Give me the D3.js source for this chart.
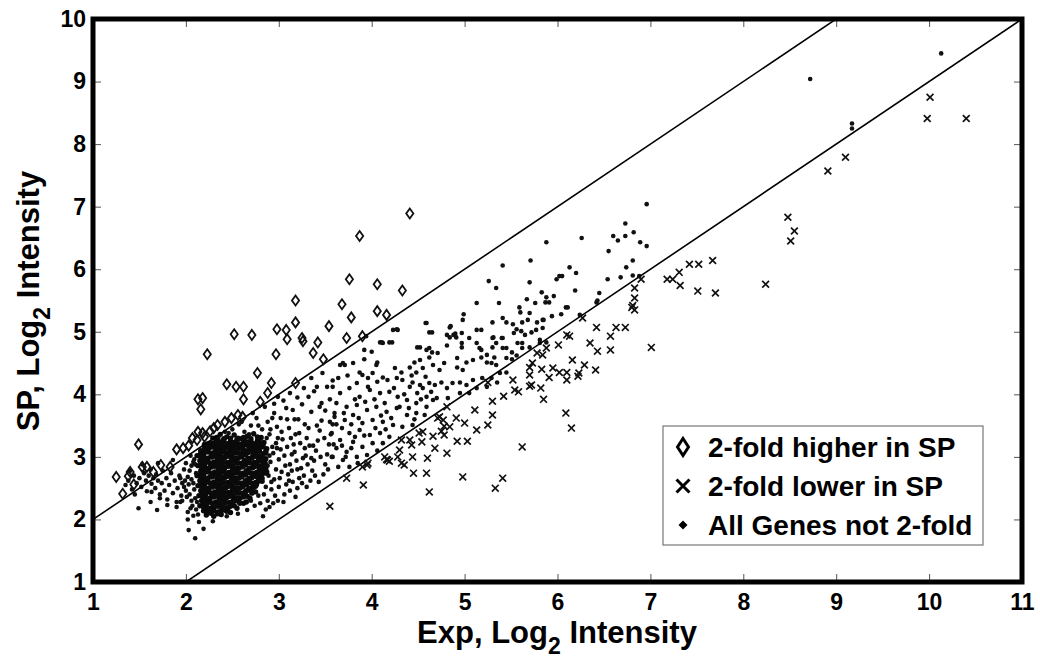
<!DOCTYPE html>
<meta charset="utf-8">
<title>SP vs Exp, Log2 Intensity</title>
<style>
  body { margin: 0; background: #fff; }
  svg text { font-family: "Liberation Sans", Arial, sans-serif; font-weight: bold; fill: #000; }
</style>
<body>
<div id="chart"></div>
<script src="https://d3js.org/d3.v7.min.js"></script>
<script>
// tick values and labels
var xTicks = [1, 2, 3, 4, 5, 6, 7, 8, 9, 10, 11];
var yTicks = [1, 2, 3, 4, 5, 6, 7, 8, 9, 10];
var xTitle = ["Exp, Log", "2", " Intensity"];
var yTitle = ["SP, Log", "2", " Intensity"];
var legendLabels = ["2-fold higher in SP", "2-fold lower in SP", "All Genes not 2-fold"];
// 2-fold lines: SP = Exp + offset (log2)
var foldOffsets = [1, -1];

// diamonds: 2-fold higher in SP  [Exp, SP]
var higherInSP = [
  [4.41,6.89],[3.87,6.53],[3.76,5.84],[4.06,5.76],[4.33,5.66],[3.18,5.50],[3.68,5.44],[4.06,5.33],
  [4.16,5.27],[3.78,5.23],[3.18,5.15],[3.54,5.09],[2.52,4.96],[2.71,4.95],[2.98,5.04],[3.08,5.03],
  [3.09,4.88],[3.25,4.90],[3.26,4.85],[3.42,4.83],[3.73,4.90],[3.90,4.93],[2.23,4.64],[2.97,4.64],
  [3.37,4.66],[3.48,4.56],[2.77,4.34],[2.44,4.16],[2.54,4.12],[2.62,4.12],[2.92,4.18],[3.18,4.18],
  [2.62,3.92],[2.88,4.02],[2.80,3.88],[2.13,3.92],[2.18,3.94],[2.16,3.76],[1.49,3.20],[1.90,3.12],
  [1.97,3.14],[1.25,2.68],[1.32,2.41],[1.40,2.76],[1.38,2.69],[1.53,2.84],[1.58,2.84],[1.73,2.87],
  [1.83,2.84],[2.13,3.40],[2.18,3.38],[2.26,3.41],[2.34,3.51],[2.42,3.56],[2.49,3.62],[2.56,3.67],
  [2.61,3.64],[2.12,3.27],[2.20,3.32],[2.07,3.30],[2.03,3.18],[1.65,2.76],[1.44,2.56],[2.30,3.46]
];

// crosses: 2-fold lower in SP
var lowerInSP = [
  [3.55,2.21],[3.91,2.55],[3.73,2.66],[3.90,2.84],[3.95,2.87],[3.96,2.90],[4.14,3.00],[4.17,2.95],
  [4.16,2.96],[4.19,2.93],[4.28,3.00],[4.30,3.11],[4.32,2.90],[4.35,2.87],[4.32,3.27],[4.41,3.27],
  [4.43,3.19],[4.44,3.00],[4.45,2.74],[4.51,3.38],[4.54,3.24],[4.55,3.40],[4.59,2.74],[4.60,2.98],
  [4.62,2.44],[4.66,3.33],[4.68,3.14],[4.71,3.62],[4.73,3.64],[4.75,3.41],[4.77,3.59],[4.78,3.35],
  [4.78,3.49],[4.81,3.80],[4.81,3.06],[4.84,3.48],[4.91,3.62],[4.92,3.25],[4.98,2.68],[5.00,3.54],
  [5.03,3.25],[5.11,3.75],[5.13,3.43],[5.25,3.51],[5.25,4.19],[5.30,3.67],[5.30,3.89],[5.33,2.50],
  [5.41,2.66],[5.42,3.97],[5.52,4.23],[5.54,4.07],[5.58,4.04],[5.62,3.16],[5.70,4.13],[5.70,4.31],
  [5.70,4.43],[5.73,4.50],[5.72,4.15],[5.78,4.66],[5.82,4.10],[5.83,4.40],[5.84,4.63],[5.85,3.92],
  [5.88,4.74],[5.91,4.27],[5.95,4.42],[6.01,4.79],[6.02,4.35],[6.09,3.70],[6.10,4.23],[6.10,4.35],
  [6.10,4.95],[6.13,4.93],[6.15,3.46],[6.16,4.55],[6.22,4.29],[6.23,4.34],[6.29,4.47],[6.35,4.82],
  [6.41,4.39],[6.43,4.69],[6.57,4.93],[6.57,4.71],[6.27,5.22],[6.42,5.07],[6.63,5.07],[6.73,5.07],
  [6.90,5.84],[6.83,5.70],[6.83,5.54],[6.81,5.42],[6.83,5.35],[6.80,5.39],[7.01,4.75],[7.18,5.84],
  [7.24,5.84],[7.31,5.95],[7.32,5.74],[7.42,6.08],[7.52,6.08],[7.67,6.14],[7.51,5.65],[7.70,5.62],
  [8.24,5.76],[8.48,6.83],[8.55,6.61],[8.51,6.45],[8.91,7.57],[9.10,7.79],[10.01,8.75],[9.98,8.41],
  [10.40,8.41]
];

// dots: not 2-fold, spread part of the cloud
var notFoldSpread = [
  [1.35,2.55],[1.38,2.62],[1.42,2.48],[1.44,2.70],[1.47,2.58],[1.50,2.66],[1.52,2.52],[1.55,2.74],
  [1.57,2.62],[1.58,2.45],[1.60,2.70],[1.62,2.80],[1.63,2.57],[1.65,2.66],[1.67,2.50],[1.68,2.72],
  [1.70,2.62],[1.72,2.40],[1.74,2.58],[1.75,2.78],[1.77,2.46],[1.79,2.66],[1.80,2.32],[1.82,2.55],
  [1.84,2.74],[1.86,2.42],[1.88,2.62],[1.90,2.28],[1.91,2.50],[1.93,2.70],[1.95,2.38],[1.96,2.58],
  [1.98,2.80],[1.45,2.40],[1.49,2.18],[1.69,2.15],[1.62,2.28],[1.72,2.34],[1.80,2.23],[1.90,2.20],
  [1.94,2.28],[1.63,2.44],[1.40,2.78],[1.53,2.88],[1.70,2.90],[1.86,2.95],
  [2.02,2.00],[2.10,1.70],[2.03,1.83],[2.14,1.96],[2.19,1.85],[2.29,1.97],[2.83,2.05],[2.56,2.09],
  [2.44,2.05],[2.66,2.15],
  [1.98,2.52],[2.02,2.68],[2.04,2.40],[2.06,2.86],[2.07,2.22],[2.08,2.58],[2.09,2.96],[2.10,2.34],
  [2.11,2.74],[2.02,2.12],[2.05,3.02],[2.00,2.90],[1.96,2.30],[1.94,2.66],
  [2.00,2.46],[2.03,2.56],[2.06,2.64],[2.04,2.78],[2.08,2.92],[2.01,2.36],[2.06,2.30],[2.09,2.48],
  [2.11,2.16],[2.08,2.06],[1.99,2.62],[2.05,2.18],[2.10,2.88],[2.12,2.28],[2.13,2.08],
  [2.35,3.30],[2.42,3.40],[2.50,3.44],[2.57,3.52],[2.63,3.40],[2.70,3.50],[2.76,3.62],[2.82,3.44],
  [2.88,3.56],[2.95,3.70],[2.68,3.36],[2.90,3.36],[2.98,3.48],[3.02,3.62],[3.08,3.78],[2.85,3.80],
  [2.72,3.70],[2.60,3.56],[2.46,3.38],[2.93,3.62],[2.78,3.50],
  [2.88,2.30],[2.92,2.48],[2.95,2.64],[2.97,2.80],[3.00,2.96],[3.02,3.12],[3.04,3.28],[3.06,2.40],
  [3.08,2.56],[3.10,2.72],[3.12,2.88],[3.14,3.04],[3.16,3.20],[3.18,3.36],[3.20,2.50],[3.22,2.66],
  [3.24,2.82],[3.26,2.98],[3.28,3.14],[3.30,3.30],[3.32,3.46],[3.34,2.62],[3.36,2.78],[3.38,2.94],
  [3.40,3.10],[3.42,3.26],[3.44,3.42],[3.46,3.58],[3.48,2.72],[3.50,2.88],[3.52,3.04],[3.54,3.20],
  [3.56,3.36],[3.58,3.52],[3.60,3.70],[2.90,2.20],[3.05,2.28],[3.18,2.36],[3.30,2.52],[3.43,2.60],
  [2.93,3.16],[2.99,3.30],[3.11,3.46],[3.21,3.60],[3.35,3.72],[3.25,3.84],[3.46,3.86],[3.12,2.46],
  [2.86,2.52],[2.89,2.70],[2.91,2.92],[2.94,3.06],[3.01,2.66],[3.07,2.86],[3.15,2.60],[3.19,2.94],
  [3.27,2.70],[3.31,2.88],[3.39,2.70],[3.45,3.00],[3.53,2.80],[3.57,3.00],[3.49,3.30],[3.37,3.18],
  [3.23,3.22],[3.13,3.30],[3.03,3.40],[3.59,3.20],[3.41,3.50],[3.28,3.52],[3.17,3.60],
  [2.88,2.86],[2.90,3.02],[2.92,2.60],[2.96,2.38],[2.98,3.14],[3.00,2.52],[3.03,2.76],[3.06,3.02],
  [3.09,3.16],[3.11,2.62],[3.14,2.78],[3.17,3.08],[3.20,2.80],[3.22,3.38],[3.25,2.58],[3.29,3.02],
  [3.33,3.18],[3.35,2.98],[2.87,3.30],[2.91,3.44],[2.97,3.22],[3.09,3.60],[2.84,2.40],[2.86,2.16],
  [2.94,2.26],[2.99,2.30],[2.80,2.26],[2.74,2.22],[2.70,2.30],[2.78,2.38],
  [3.05,3.90],[3.12,4.02],[3.20,3.95],[3.27,4.10],[3.15,3.75],[3.32,3.96],[3.38,4.05],[3.44,3.80],
  [3.55,3.92],[3.58,4.22],[2.95,3.85],[2.99,3.96],[3.47,4.34],[3.35,4.26],[3.41,4.12],[3.52,4.12],
  [3.69,4.50],[3.66,4.47],[3.58,4.12],[3.62,3.86],[3.73,3.80],[3.84,3.83],[3.95,3.75],[4.05,3.80],
  [4.16,3.72],[4.27,3.78],[4.38,3.67],[4.48,3.70],[4.57,3.67],[3.60,3.64],[3.71,3.59],[3.80,3.67],
  [3.90,3.54],[4.01,3.59],[4.12,3.56],[4.23,3.51],[4.33,3.48],[4.44,3.51],[3.68,3.46],[3.76,3.38],
  [3.87,3.43],[3.98,3.35],[4.09,3.38],[4.19,3.32],[3.57,3.38],[3.66,3.27],[3.80,3.24],[3.90,3.16],
  [4.01,3.22],[4.12,3.22],[3.62,3.14],[3.73,3.08],[3.84,3.00],[3.95,3.03],[3.69,2.95],[3.58,3.00],
  [3.76,2.84],[3.85,2.90],
  [3.62,3.52],[3.70,3.70],[3.78,3.52],[3.82,3.92],[3.86,3.62],[3.93,3.88],[3.96,4.12],[4.03,3.92],
  [4.06,4.20],[4.10,3.66],[4.14,3.86],[4.21,3.62],[4.24,4.10],[4.30,3.80],[4.35,4.00],[4.40,3.78],
  [4.43,4.30],[4.46,3.60],[4.53,3.92],[4.58,4.28],[4.64,4.04],[3.64,4.26],[3.74,4.30],[3.80,4.50],
  [3.84,4.18],[3.92,4.56],[4.00,4.68],[3.55,3.56],[3.50,3.74],[3.68,3.18],[3.78,3.14],[3.92,3.34],
  [4.04,3.46],[4.15,3.44],[4.06,3.10],[3.82,3.32],[3.64,2.84],[3.72,3.00],
  [3.66,4.02],[3.76,4.10],[3.87,3.96],[3.98,4.07],[4.09,4.02],[4.19,4.04],[4.28,3.96],
  [4.38,3.91],[4.48,3.86],[4.59,3.80],[4.66,3.91],[3.71,4.47],[3.87,4.35],[3.90,4.31],
  [3.96,4.26],[4.01,4.34],[4.12,4.27],[4.17,4.23],[4.27,4.26],[4.33,4.23],[4.44,4.19],[4.41,4.12],
  [4.52,4.15],[4.55,4.10],[4.62,4.18],[4.68,4.15],[4.75,4.19],[4.81,4.10],[4.87,4.18],[4.95,4.19],
  [5.02,4.15],[5.09,4.23],[5.19,4.26],[5.29,4.26],[5.38,4.34],[5.45,4.35],[5.35,4.19],[5.24,4.12],
  [5.13,4.10],[5.05,4.02],[4.95,4.02],[4.82,3.94],[4.70,3.94],[4.59,3.96],[4.49,4.02],
  [4.06,4.51],[4.05,4.47],[4.25,4.42],[4.32,4.35],[4.41,4.43],[4.46,4.51],[4.52,4.55],[4.55,4.42],
  [4.48,4.35],[4.62,4.59],[4.66,4.47],[4.73,4.39],[4.78,4.50],[4.92,4.58],[4.92,4.43],[4.98,4.39],
  [5.02,4.51],[5.09,4.55],[5.18,4.59],[5.24,4.51],[5.29,4.50],[5.34,4.47],[5.32,4.59],[5.45,4.58],
  [5.51,4.56],[5.56,4.62],
  [3.92,4.71],[3.94,4.93],[4.09,4.83],[4.12,4.82],[4.22,4.83],[4.23,5.03],[4.28,5.03],[4.58,5.14],
  [4.65,4.99],[4.11,4.83],[4.19,4.83],[4.52,4.75],[4.62,4.74],[4.49,4.75],[4.59,4.71],[4.65,4.67],
  [4.71,4.66],[4.81,4.78],[4.84,4.91],[4.90,4.97],[4.97,4.82],[5.05,4.90],[5.13,4.82],[5.18,4.71],
  [5.24,4.63],[5.30,4.90],[5.34,4.82],[5.40,4.90],[5.45,4.74],[5.51,4.67],[5.57,4.82],[5.62,4.82],
  [5.81,4.87],[5.88,4.83],[4.97,4.75],[5.16,4.74],[5.30,4.75],[5.41,4.74],[5.62,4.74],[5.70,4.75],
  [5.81,4.82],[4.84,5.07],[4.81,4.95],[4.88,4.95],[4.91,4.91],[4.97,4.98],[4.27,5.04],[4.62,4.99],
  [5.13,5.03],[5.18,5.03],[5.31,4.91],[5.41,4.90],[5.53,4.98],[5.56,5.04],[5.61,5.01],[5.65,4.95],
  [5.72,4.99],[5.77,5.03],
  [4.59,5.14],[4.85,5.09],[4.99,5.28],[4.98,5.19],[5.30,5.15],[5.41,5.22],[5.45,5.15],[5.52,5.12],
  [5.62,5.15],[5.68,5.19],[5.78,5.15],[5.85,5.19],[5.13,5.46],[5.37,5.46],[5.67,5.52],[5.76,5.46],
  [5.59,5.39],[5.60,5.31],[5.70,5.30],[5.26,5.81],[5.34,5.70],[5.70,5.79],[5.71,6.14],[5.41,6.06],
  [5.83,5.63],[5.88,5.55],[5.96,5.57],[5.87,5.47],[5.91,5.47],[6.09,5.39],[6.11,5.39],[6.04,5.28],
  [5.94,5.25],[5.84,5.19],[5.84,5.06],[6.24,5.27],[6.19,5.66],[6.45,5.62],[6.43,5.50],[6.42,5.47],
  [6.54,5.84],[6.68,5.87],[6.81,5.90],[6.88,5.89],[6.74,6.03],[6.81,6.14],[6.55,6.29],[6.13,6.03],
  [6.20,5.94],[5.99,5.84],[6.02,5.89],[6.05,5.89],[5.88,6.43],[6.26,6.50],[6.60,6.53],[6.65,6.46],
  [6.73,6.53],[6.82,6.59],[6.89,6.43],[6.96,6.37],[6.73,6.73],[6.96,7.04],
  [8.72,9.04],[10.13,9.45],[9.17,8.33],[9.17,8.25]
];

// dots: not 2-fold, dense core of the cloud
var notFoldCore = [
  [2.29,3.30],[2.37,3.36],[2.44,3.32],[2.52,3.35],[2.58,3.29],[2.66,3.33],[2.73,3.37],[2.81,3.31],
  [2.32,3.23],[2.40,3.26],[2.47,3.22],[2.55,3.27],[2.62,3.24],[2.69,3.21],[2.77,3.26],[2.84,3.23],
  [2.20,3.20],[2.28,3.16],[2.35,3.19],[2.43,3.15],[2.50,3.18],[2.57,3.14],[2.65,3.19],[2.72,3.15],
  [2.80,3.17],[2.87,3.13],[2.16,3.10],[2.24,3.12],[2.31,3.08],[2.38,3.11],[2.46,3.07],[2.53,3.10],
  [2.61,3.06],[2.68,3.11],[2.75,3.08],[2.83,3.05],[2.12,3.02],[2.19,3.04],[2.27,3.00],[2.34,3.03],
  [2.42,2.99],[2.49,3.02],[2.56,2.98],[2.64,3.03],[2.71,2.99],[2.78,3.01],[2.86,2.97],[2.15,2.94],
  [2.23,2.96],[2.30,2.92],[2.37,2.95],[2.45,2.91],[2.52,2.94],[2.60,2.90],[2.67,2.95],[2.74,2.91],
  [2.82,2.93],[2.13,2.86],[2.20,2.88],[2.27,2.84],[2.35,2.87],[2.42,2.83],[2.50,2.86],[2.57,2.82],
  [2.64,2.87],[2.72,2.83],[2.79,2.85],[2.86,2.81],[2.16,2.78],[2.24,2.80],[2.31,2.76],[2.39,2.79],
  [2.46,2.75],[2.54,2.78],[2.61,2.74],[2.68,2.79],[2.76,2.75],[2.83,2.77],[2.12,2.70],[2.19,2.72],
  [2.27,2.68],[2.34,2.71],[2.42,2.67],[2.49,2.70],[2.57,2.66],[2.64,2.71],[2.71,2.67],[2.79,2.69],
  [2.15,2.62],[2.23,2.64],[2.30,2.60],[2.38,2.63],[2.45,2.59],[2.53,2.62],[2.60,2.58],[2.67,2.63],
  [2.75,2.59],[2.82,2.61],[2.13,2.54],[2.20,2.56],[2.28,2.52],[2.35,2.55],[2.43,2.51],[2.50,2.54],
  [2.57,2.50],[2.65,2.55],[2.72,2.51],[2.16,2.46],[2.24,2.48],[2.31,2.44],[2.39,2.47],[2.46,2.43],
  [2.54,2.46],[2.61,2.42],[2.68,2.47],[2.75,2.44],[2.14,2.38],[2.21,2.40],[2.29,2.36],[2.36,2.39],
  [2.44,2.35],[2.51,2.38],[2.58,2.34],[2.66,2.37],[2.17,2.30],[2.25,2.32],[2.32,2.28],[2.40,2.31],
  [2.47,2.27],[2.55,2.30],[2.62,2.26],[2.15,2.22],[2.22,2.24],[2.30,2.20],[2.37,2.23],[2.45,2.19],
  [2.52,2.22],[2.19,2.14],[2.26,2.16],[2.34,2.12],[2.41,2.15],[2.48,2.11],[2.22,2.07],[2.30,2.05],
  [2.38,2.08],
  [2.33,3.26],[2.41,3.29],[2.48,3.25],[2.56,3.30],[2.63,3.27],[2.70,3.25],[2.78,3.29],[2.24,3.21],
  [2.31,3.19],[2.39,3.22],[2.46,3.18],[2.54,3.21],[2.61,3.17],[2.68,3.22],[2.76,3.19],[2.83,3.20],
  [2.20,3.14],[2.27,3.16],[2.35,3.12],[2.42,3.15],[2.50,3.11],[2.57,3.14],[2.64,3.10],[2.72,3.13],
  [2.79,3.11],[2.86,3.09],[2.16,3.06],[2.23,3.08],[2.31,3.04],[2.38,3.07],[2.45,3.03],[2.53,3.06],
  [2.60,3.02],[2.67,3.07],[2.75,3.04],[2.82,3.01],[2.19,2.98],[2.27,3.00],[2.34,2.96],[2.41,2.99],
  [2.49,2.95],[2.56,2.98],[2.63,2.94],[2.71,2.98],[2.78,2.95],[2.85,2.91],[2.17,2.90],[2.24,2.92],
  [2.31,2.88],[2.38,2.91],[2.46,2.87],[2.54,2.90],[2.61,2.86],[2.68,2.91],[2.76,2.87],[2.83,2.89],
  [2.20,2.82],[2.27,2.84],[2.35,2.80],[2.42,2.83],[2.50,2.79],[2.57,2.82],[2.65,2.78],[2.72,2.83],
  [2.79,2.79],[2.87,2.76],[2.16,2.74],[2.23,2.76],[2.31,2.72],[2.38,2.75],[2.46,2.71],[2.53,2.74],
  [2.60,2.70],[2.68,2.75],[2.75,2.71],[2.82,2.73],[2.19,2.66],[2.26,2.68],[2.34,2.64],[2.41,2.67],
  [2.49,2.63],[2.56,2.66],[2.64,2.62],[2.71,2.67],[2.78,2.63],[2.17,2.58],[2.24,2.60],[2.32,2.56],
  [2.39,2.59],[2.47,2.55],[2.54,2.58],[2.61,2.54],[2.69,2.59],[2.76,2.56],[2.20,2.50],[2.28,2.52],
  [2.35,2.48],[2.43,2.51],[2.50,2.47],[2.58,2.50],[2.65,2.46],[2.72,2.49],[2.18,2.42],[2.25,2.44],
  [2.33,2.40],[2.40,2.43],[2.48,2.39],[2.55,2.42],[2.62,2.39],[2.21,2.34],[2.28,2.36],[2.36,2.32],
  [2.43,2.35],[2.51,2.31],[2.58,2.34],[2.19,2.26],[2.26,2.28],[2.34,2.24],[2.41,2.27],[2.49,2.23],
  [2.23,2.18],[2.30,2.20],[2.38,2.16],[2.45,2.17],[2.27,2.10],[2.34,2.09],
  [2.33,3.31],[2.41,3.28],[2.48,3.30],[2.55,3.27],[2.62,3.31],[2.70,3.29],[2.77,3.32],
  [2.28,3.22],[2.36,3.24],[2.44,3.21],[2.51,3.23],[2.58,3.20],[2.66,3.24],[2.73,3.21],[2.80,3.23],
  [2.24,3.16],[2.32,3.14],[2.39,3.17],[2.46,3.15],[2.54,3.17],[2.61,3.13],[2.68,3.16],[2.76,3.14],[2.83,3.16],
  [2.20,3.08],[2.27,3.06],[2.35,3.09],[2.42,3.07],[2.50,3.09],[2.57,3.06],[2.64,3.08],[2.72,3.06],[2.79,3.09],[2.86,3.06],
  [2.16,3.00],[2.23,2.98],[2.30,3.01],[2.38,2.99],[2.45,3.01],[2.53,2.98],[2.60,3.00],[2.67,2.98],[2.75,3.01],[2.82,2.98],
  [2.19,2.92],[2.26,2.90],[2.34,2.93],[2.41,2.91],[2.49,2.93],[2.56,2.90],[2.63,2.92],[2.71,2.90],[2.78,2.93],[2.85,2.90],
  [2.17,2.84],[2.24,2.82],[2.31,2.85],[2.39,2.83],[2.46,2.85],[2.53,2.82],[2.61,2.84],[2.68,2.82],[2.75,2.85],[2.83,2.82],
  [2.20,2.76],[2.27,2.74],[2.35,2.77],[2.42,2.75],[2.50,2.77],[2.57,2.74],[2.65,2.76],[2.72,2.74],[2.80,2.77],[2.86,2.74],
  [2.16,2.68],[2.23,2.66],[2.30,2.69],[2.38,2.67],[2.45,2.69],[2.53,2.66],[2.60,2.68],[2.68,2.66],[2.75,2.69],[2.82,2.66],
  [2.19,2.60],[2.26,2.58],[2.34,2.61],[2.41,2.59],[2.49,2.61],[2.56,2.58],[2.64,2.60],[2.71,2.58],[2.78,2.61],
  [2.17,2.52],[2.24,2.50],[2.32,2.53],[2.39,2.51],[2.46,2.53],[2.54,2.50],[2.61,2.52],[2.68,2.50],[2.75,2.53],
  [2.20,2.44],[2.27,2.42],[2.35,2.45],[2.42,2.43],[2.50,2.45],[2.57,2.42],[2.64,2.44],[2.71,2.42],
  [2.18,2.36],[2.25,2.34],[2.32,2.37],[2.40,2.35],[2.47,2.37],[2.55,2.34],[2.62,2.36],[2.69,2.34],
  [2.21,2.28],[2.28,2.26],[2.36,2.29],[2.43,2.27],[2.51,2.29],[2.58,2.26],[2.65,2.28],
  [2.19,2.20],[2.26,2.18],[2.34,2.21],[2.41,2.19],[2.48,2.21],[2.55,2.18],
  [2.23,2.12],[2.30,2.14],[2.37,2.11],[2.44,2.13]
];

var margin = {top: 19, right: 18, bottom: 79, left: 93},
    width = 1040 - margin.left - margin.right,
    height = 661 - margin.top - margin.bottom;

var svg = d3.select("#chart").append("svg")
    .attr("width", 1040)
    .attr("height", 661);

var g = svg.append("g")
    .attr("transform", "translate(" + margin.left + "," + margin.top + ")");

var x = d3.scaleLinear().domain([1, 11]).range([0, width]);
var y = d3.scaleLinear().domain([1, 10]).range([height, 0]);

g.append("clipPath").attr("id", "plotclip")
  .append("rect").attr("width", width).attr("height", height);

// axes: ticks point inwards, frame drawn separately
function styleAxis(sel) {
  sel.select(".domain").remove();
  sel.selectAll(".tick line").attr("stroke", "#555").attr("stroke-width", 1);
  sel.selectAll(".tick text").style("font-size", "23px");
}
g.append("g").attr("transform", "translate(0," + height + ")")
  .call(d3.axisBottom(x).tickValues(xTicks).tickSizeInner(-8).tickSizeOuter(0).tickPadding(12).tickFormat(d3.format("d")))
  .call(styleAxis);
g.append("g")
  .call(d3.axisLeft(y).tickValues(yTicks).tickSizeInner(-8).tickSizeOuter(0).tickPadding(7).tickFormat(d3.format("d")))
  .call(styleAxis);
g.append("g")
  .call(d3.axisTop(x).tickValues(xTicks).tickSizeInner(-8).tickSizeOuter(0).tickFormat(""))
  .call(styleAxis);
g.append("g").attr("transform", "translate(" + width + ",0)")
  .call(d3.axisRight(y).tickValues(yTicks).tickSizeInner(-8).tickSizeOuter(0).tickFormat(""))
  .call(styleAxis);

// points
var plot = g.append("g").attr("clip-path", "url(#plotclip)");

plot.append("g").selectAll("circle")
  .data(notFoldSpread)
  .enter().append("circle")
    .attr("cx", function(d) { return x(d[0]); })
    .attr("cy", function(d) { return y(d[1]); })
    .attr("r", 2.3)
    .attr("fill", "#111");

// dense core: slightly fatter dots so the overlap reads as solid black
plot.append("g").selectAll("circle")
  .data(notFoldCore)
  .enter().append("circle")
    .attr("cx", function(d) { return x(d[0]); })
    .attr("cy", function(d) { return y(d[1]); })
    .attr("r", 2.7)
    .attr("fill", "#0a0a0a");

// 2-fold lines
plot.append("g").selectAll("line")
  .data(foldOffsets)
  .enter().append("line")
    .attr("x1", x(1)).attr("y1", function(o) { return y(1 + o); })
    .attr("x2", x(11)).attr("y2", function(o) { return y(11 + o); })
    .attr("stroke", "#000")
    .attr("stroke-width", 1.6);

var diamondPath = "M0,-5L3.6,0L0,5L-3.6,0Z";
var crossPath = "M-3.4,-3.4L3.4,3.4M-3.4,3.4L3.4,-3.4";

plot.append("g").selectAll("path")
  .data(higherInSP)
  .enter().append("path")
    .attr("d", diamondPath)
    .attr("transform", function(d) { return "translate(" + x(d[0]) + "," + y(d[1]) + ")"; })
    .attr("fill", "none")
    .attr("stroke", "#111")
    .attr("stroke-width", 1.8);

plot.append("g").selectAll("path")
  .data(lowerInSP)
  .enter().append("path")
    .attr("d", crossPath)
    .attr("transform", function(d) { return "translate(" + x(d[0]) + "," + y(d[1]) + ")"; })
    .attr("fill", "none")
    .attr("stroke", "#111")
    .attr("stroke-width", 1.7);

// thick frame
g.append("rect")
  .attr("width", width).attr("height", height)
  .attr("fill", "none")
  .attr("stroke", "#000")
  .attr("stroke-width", 5);

// legend
var legend = svg.append("g").attr("transform", "translate(663,426)");
legend.append("rect")
  .attr("width", 320).attr("height", 119)
  .attr("fill", "#fff")
  .attr("stroke", "#777")
  .attr("stroke-width", 1.2);
var rows = legend.selectAll(".row")
  .data(legendLabels)
  .enter().append("g")
    .attr("transform", function(d, i) { return "translate(0," + (21 + i * 39) + ")"; });
rows.append("text")
  .attr("x", 45).attr("y", 10)
  .style("font-size", "28px")
  .text(function(d) { return d; });
rows.filter(function(d, i) { return i === 0; }).append("path")
  .attr("d", "M0,-8.5L5.5,0L0,8.5L-5.5,0Z")
  .attr("transform", "translate(20,0)")
  .attr("fill", "none").attr("stroke", "#000").attr("stroke-width", 3);
rows.filter(function(d, i) { return i === 1; }).append("path")
  .attr("d", "M-6.5,-6.5L6.5,6.5M-6.5,6.5L6.5,-6.5")
  .attr("transform", "translate(20,0)")
  .attr("fill", "none").attr("stroke", "#000").attr("stroke-width", 3);
rows.filter(function(d, i) { return i === 2; }).append("path")
  .attr("d", "M0,-4.5L4.5,0L0,4.5L-4.5,0Z")
  .attr("transform", "translate(20,0)")
  .attr("fill", "#000");

// axis titles
var xt = svg.append("text")
  .attr("x", 557).attr("y", 643)
  .attr("text-anchor", "middle")
  .style("font-size", "31px");
xt.append("tspan").text(xTitle[0]);
xt.append("tspan").attr("dy", 11).style("font-size", "23px").text(xTitle[1]);
xt.append("tspan").attr("dy", -11).text(xTitle[2]);

var yt = svg.append("text")
  .attr("transform", "translate(39,301) rotate(-90)")
  .attr("text-anchor", "middle")
  .style("font-size", "31px");
yt.append("tspan").text(yTitle[0]);
yt.append("tspan").attr("dy", 11).style("font-size", "23px").text(yTitle[1]);
yt.append("tspan").attr("dy", -11).text(yTitle[2]);
</script>
</body>
